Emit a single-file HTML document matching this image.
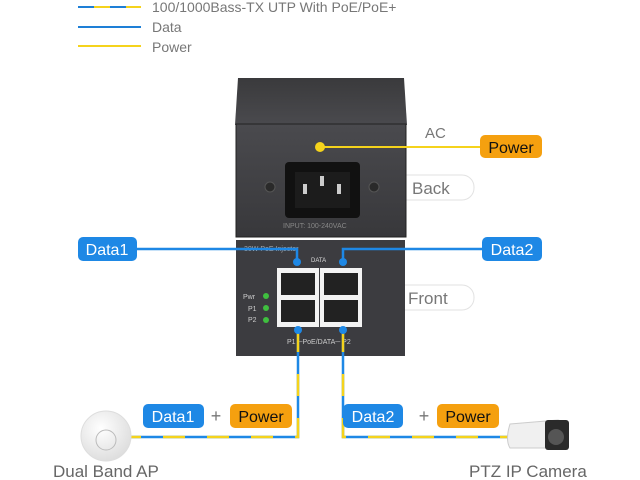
<!DOCTYPE html>
<html><head><meta charset="utf-8"><style>
html,body{margin:0;padding:0;background:#fff;width:640px;height:480px;overflow:hidden}
svg{display:block}
text{font-family:"Liberation Sans",sans-serif}
</style></head><body>
<svg width="640" height="480" viewBox="0 0 640 480">
<defs>
<linearGradient id="top" x1="0" y1="0" x2="0" y2="1"><stop offset="0" stop-color="#3a3a3c"/><stop offset="1" stop-color="#4a4a4e"/></linearGradient>
<linearGradient id="face" x1="0" y1="0" x2="0" y2="1"><stop offset="0" stop-color="#4a4a4e"/><stop offset="1" stop-color="#38383b"/></linearGradient>
<radialGradient id="ap" cx="0.4" cy="0.35" r="0.7"><stop offset="0" stop-color="#fff"/><stop offset="1" stop-color="#dcdcdc"/></radialGradient>
</defs>
<!-- legend -->
<line x1="78" y1="7" x2="141" y2="7" stroke="#1e7fd6" stroke-width="2" stroke-dasharray="16 16"/>
<line x1="94" y1="7" x2="141" y2="7" stroke="#f5d31c" stroke-width="2" stroke-dasharray="16 16"/>
<line x1="78" y1="27" x2="141" y2="27" stroke="#1e7fd6" stroke-width="2"/>
<line x1="78" y1="46" x2="141" y2="46" stroke="#f5d31c" stroke-width="2"/>
<g font-size="14" fill="#777">
<text x="152" y="12">100/1000Bass-TX UTP With PoE/PoE+</text>
<text x="152" y="32">Data</text>
<text x="152" y="52">Power</text>
</g>
<!-- side labels -->
<rect x="380" y="175" width="94" height="25" rx="12" fill="#fff" stroke="#e2e2e2"/>
<rect x="380" y="285" width="94" height="25" rx="12" fill="#fff" stroke="#e2e2e2"/>
<text x="412" y="194" font-size="17" fill="#777">Back</text>
<text x="408" y="304" font-size="17" fill="#777">Front</text>
<text x="425" y="138" font-size="15" fill="#777">AC</text>
<!-- device -->
<path d="M238 78 H404 L407 125 H235 Z" fill="url(#top)"/>
<rect x="236" y="124" width="170" height="113" fill="url(#face)" stroke="#222"/>
<rect x="285" y="162" width="75" height="56" rx="4" fill="#111"/>
<rect x="295" y="172" width="55" height="36" fill="#1c1c1c"/>
<rect x="303" y="184" width="4" height="10" fill="#ccc"/><rect x="337" y="184" width="4" height="10" fill="#ccc"/><rect x="320" y="176" width="4" height="10" fill="#ccc"/>
<circle cx="270" cy="187" r="5" fill="#2a2a2a" stroke="#555"/><circle cx="374" cy="187" r="5" fill="#2a2a2a" stroke="#555"/>
<text x="283" y="228" font-size="7" fill="#888">INPUT: 100-240VAC</text>
<rect x="236" y="240" width="169" height="116" fill="#3c3c40"/>
<text x="244" y="251" font-size="7" fill="#aaa">30W PoE Injector</text>
<text x="311" y="262" font-size="6" fill="#ddd">DATA</text>
<rect x="277" y="268" width="42" height="59" fill="#f3f3f3"/>
<rect x="320" y="268" width="42" height="59" fill="#f3f3f3"/>
<rect x="281" y="273" width="34" height="22" fill="#222"/><rect x="324" y="273" width="34" height="22" fill="#222"/>
<rect x="281" y="300" width="34" height="22" fill="#222"/><rect x="324" y="300" width="34" height="22" fill="#222"/>
<g font-size="7" fill="#ccc"><text x="243" y="299">Pwr</text><text x="248" y="311">P1</text><text x="248" y="322">P2</text>
<text x="287" y="344">P1 ─PoE/DATA─ P2</text></g>
<circle cx="266" cy="296" r="3" fill="#3fbf3f"/><circle cx="266" cy="308" r="3" fill="#3fbf3f"/><circle cx="266" cy="320" r="3" fill="#3fbf3f"/>
<!-- AC line -->
<line x1="320" y1="147" x2="482" y2="147" stroke="#f5d31c" stroke-width="2"/>
<circle cx="320" cy="147" r="5" fill="#f5d31c"/>
<!-- data lines -->
<path d="M137 249 H297 V262" fill="none" stroke="#1e88e5" stroke-width="2.5"/>
<path d="M482 249 H343 V262" fill="none" stroke="#1e88e5" stroke-width="2.5"/>
<circle cx="297" cy="262" r="4" fill="#1e88e5"/><circle cx="343" cy="262" r="4" fill="#1e88e5"/>
<!-- bottom cables -->
<path d="M298 330 V437 H128" fill="none" stroke="#1e88e5" stroke-width="2.5"/>
<path d="M298 330 V437 H128" fill="none" stroke="#f5d31c" stroke-width="2.5" stroke-dasharray="22 22"/>
<path d="M343 330 V437 H515" fill="none" stroke="#1e88e5" stroke-width="2.5"/>
<path d="M343 330 V437 H515" fill="none" stroke="#f5d31c" stroke-width="2.5" stroke-dasharray="22 22"/>
<circle cx="298" cy="330" r="4" fill="#1e88e5"/><circle cx="343" cy="330" r="4" fill="#1e88e5"/>
<!-- badges -->
<g font-size="16" text-anchor="middle">
<rect x="480" y="135" width="62" height="23" rx="5" fill="#f5a00f"/><text x="511" y="153" fill="#111">Power</text>
<rect x="78" y="237" width="59" height="24" rx="5" fill="#1e88e5"/><text x="107" y="255" fill="#fff">Data1</text>
<rect x="482" y="237" width="60" height="24" rx="5" fill="#1e88e5"/><text x="512" y="255" fill="#fff">Data2</text>
<rect x="143" y="404" width="61" height="24" rx="5" fill="#1e88e5"/><text x="173" y="422" fill="#fff">Data1</text>
<rect x="230" y="404" width="62" height="24" rx="5" fill="#f5a00f"/><text x="261" y="422" fill="#111">Power</text>
<rect x="343" y="404" width="60" height="24" rx="5" fill="#1e88e5"/><text x="373" y="422" fill="#fff">Data2</text>
<rect x="437" y="404" width="62" height="24" rx="5" fill="#f5a00f"/><text x="468" y="422" fill="#111">Power</text>
<text x="216" y="422" fill="#777" font-size="18">+</text><text x="424" y="422" fill="#777" font-size="18">+</text>
</g>
<!-- AP -->
<circle cx="106" cy="436" r="25" fill="url(#ap)" stroke="#ddd"/>
<circle cx="106" cy="440" r="10" fill="none" stroke="#bbb"/>
<!-- camera -->
<path d="M510 424 L558 420 Q566 422 566 432 L566 448 L510 448 Q505 440 510 424 Z" fill="#f0f0f0" stroke="#ccc"/>
<rect x="545" y="420" width="24" height="30" rx="3" fill="#2a2a2a"/>
<circle cx="556" cy="437" r="8" fill="#555"/>
<g font-size="17" fill="#666"><text x="53" y="477">Dual Band AP</text><text x="469" y="477">PTZ IP Camera</text></g>
</svg>
</body></html>
